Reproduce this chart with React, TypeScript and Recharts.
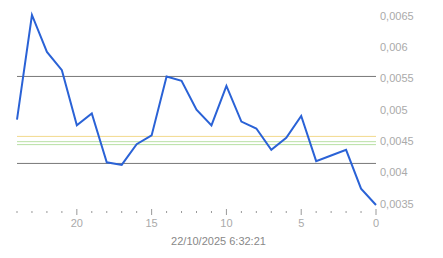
import { LineChart, Line, XAxis, YAxis, ReferenceLine, Label } from 'recharts';

const hoursAgo = [24, 23, 22, 21, 20, 19, 18, 17, 16, 15, 14, 13, 12, 11, 10, 9, 8, 7, 6, 5, 4, 3, 2, 1, 0];
const rates = [
  0.00484, 0.00651, 0.00592, 0.00563, 0.00475, 0.00494, 0.00416, 0.00412, 0.00445, 0.00459,
  0.00553, 0.00546, 0.005, 0.00475, 0.00538, 0.00481, 0.0047, 0.00436, 0.00455, 0.0049,
  0.00418, 0.00427, 0.00436, 0.00374, 0.00348,
];
const xTicks = [24, 23, 22, 21, 20, 19, 18, 17, 16, 15, 14, 13, 12, 11, 10, 9, 8, 7, 6, 5, 4, 3, 2, 1, 0];
const yTicks = [0.0035, 0.004, 0.0045, 0.005, 0.0055, 0.006, 0.0065];
const upperLevel = 0.00553;
const lowerLevel = 0.004143;
const yellowLevel = 0.004574;
const greenLevels = [0.00449, 0.004443];
const timestamp = '22/10/2025 6:32:21';

const data = hoursAgo.map((h, i) => ({ h, rate: rates[i] }));

const fmt = (v: number) => String(v).replace('.', ',');

const HourTick = (props: any) => {
  const { x, y, payload } = props;
  const major = payload.value % 5 === 0;
  return (
    <g>
      <line x1={x} x2={x} y1={y + (major ? 4 : 6)} y2={y + (major ? 10 : 8)} stroke="#999" strokeWidth={1} />
      {major && (
        <text x={x} y={y + 22} textAnchor="middle" fill="#aaa" fontSize={11} fontFamily="Arial, 'Liberation Sans', sans-serif">
          {payload.value}
        </text>
      )}
    </g>
  );
};

export default function App() {
  return (
    <div style={{ position: 'absolute', left: 0, top: 0, width: 443, height: 258, background: '#fff' }}>
      <LineChart width={443} height={258} data={data} margin={{ top: 15, right: 0, bottom: 13, left: 17 }}>
        <XAxis
          dataKey="h"
          type="number"
          domain={[0, 24]}
          reversed
          ticks={xTicks}
          interval={0}
          tick={<HourTick />}
          tickLine={false}
          axisLine={false}
          tickSize={0}
          tickMargin={0}
          height={40}
        >
          <Label
            value={timestamp}
            position="insideBottom"
            offset={0}
            dx={22}
            fill="#888"
            fontSize={11}
            fontFamily="Arial, 'Liberation Sans', sans-serif"
          />
        </XAxis>
        <YAxis
          orientation="right"
          width={67}
          domain={[0.0035, 0.0065]}
          ticks={yTicks}
          tickFormatter={fmt}
          tickLine={false}
          axisLine={false}
          tickSize={0}
          tickMargin={4}
          tick={{ fill: '#aaa', fontSize: 11, fontFamily: "Arial, 'Liberation Sans', sans-serif" }}
        />
        <ReferenceLine y={upperLevel} stroke="#777" strokeWidth={1} />
        <ReferenceLine y={lowerLevel} stroke="#777" strokeWidth={1} />
        <ReferenceLine y={yellowLevel} stroke="#f2d98c" strokeWidth={1} />
        {greenLevels.map((g) => (
          <ReferenceLine key={g} y={g} stroke="#b9e0a5" strokeWidth={1} />
        ))}
        <Line
          type="linear"
          dataKey="rate"
          stroke="#2a62d6"
          strokeWidth={2}
          dot={false}
          isAnimationActive={false}
        />
      </LineChart>
    </div>
  );
}
